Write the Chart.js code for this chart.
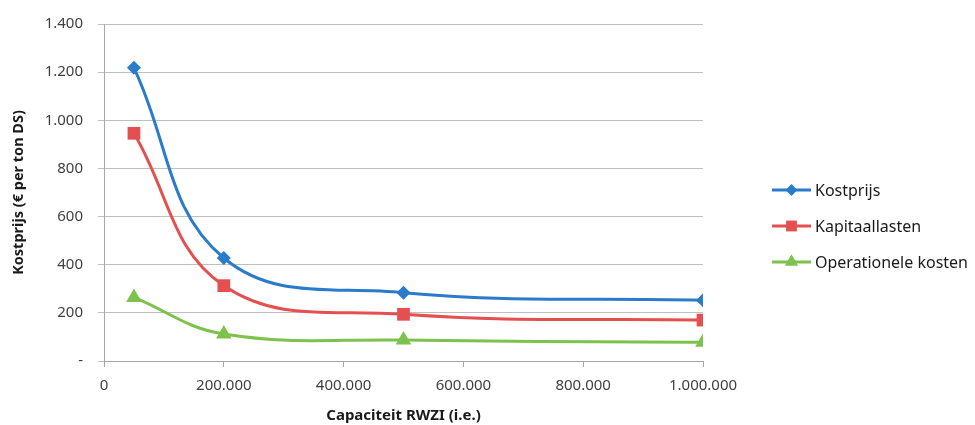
<!DOCTYPE html>
<html>
<head>
<meta charset="utf-8">
<script src="https://cdn.jsdelivr.net/npm/chart.js@4.4.1/dist/chart.umd.min.js"></script>
<style>
  html, body { margin: 0; padding: 0; background: #ffffff; }
  #wrap { width: 975px; height: 425px; position: relative; }
</style>
</head>
<body>
<div id="wrap"><canvas id="c" width="975" height="425"></canvas></div>
<script>
// ---- data ----
const capacities = [50000, 200000, 500000, 1000000];
const kostprijs = [1218, 428, 284, 252];
const kapitaallasten = [946, 313, 194, 170];
const operationeleKosten = [264, 112, 87, 78];
const seriesNames = ["Kostprijs", "Kapitaallasten", "Operationele kosten"];
const xTitle = "Capaciteit RWZI (i.e.)";
const yTitle = "Kostprijs (€ per ton DS)";

const colors = ["#2b7bcb", "#e4504f", "#7cc24c"];
const pointStyles = ["rectRot", "rect", "triangle"];
const pointRadii = [7, 9, 9];

function nl(v) {
  return String(Math.round(v)).replace(/\B(?=(\d{3})+(?!\d))/g, ".");
}

function toXY(vals) {
  return capacities.map((c, i) => ({ x: c, y: vals[i] }));
}

const allSeries = [kostprijs, kapitaallasten, operationeleKosten];
const datasets = allSeries.map((vals, i) => ({
  label: seriesNames[i],
  data: toXY(vals),
  borderColor: colors[i],
  backgroundColor: colors[i],
  borderWidth: 3,
  pointStyle: pointStyles[i],
  pointRadius: pointRadii[i],
  pointHoverRadius: pointRadii[i],
  pointBorderWidth: 0,
  tension: 0.4,
  fill: false
}));

const FONT = '"Noto Sans", "Liberation Sans", sans-serif';

const legendPlugin = {
  id: 'customLegend',
  afterDraw(chart) {
    const ctx = chart.ctx;
    const x0 = 772, x1 = 811, tx = 815;
    const rows = [190, 226, 262];
    chart.data.datasets.forEach((ds, i) => {
      const y = rows[i];
      ctx.save();
      ctx.strokeStyle = ds.borderColor;
      ctx.lineWidth = 3;
      ctx.beginPath();
      ctx.moveTo(x0, y);
      ctx.lineTo(x1, y);
      ctx.stroke();
      ctx.fillStyle = ds.backgroundColor;
      ctx.strokeStyle = ds.borderColor;
      Chart.helpers.drawPoint(ctx, {
        pointStyle: ds.pointStyle,
        rotation: 0,
        radius: ds.pointRadius * 0.85,
        borderWidth: 0
      }, (x0 + x1) / 2, y);
      ctx.fillStyle = '#1a1a1a';
      ctx.font = '16px ' + FONT;
      ctx.textBaseline = 'middle';
      ctx.textAlign = 'left';
      ctx.fillText(ds.label, tx, y + 1);
      ctx.restore();
    });
  }
};

new Chart(document.getElementById('c'), {
  type: 'line',
  data: { datasets },
  plugins: [legendPlugin],
  options: {
    responsive: false,
    animation: false,
    events: [],
    layout: { padding: { left: 6, right: 272, top: 17, bottom: 0 } },
    plugins: {
      legend: { display: false },
      tooltip: { enabled: false }
    },
    scales: {
      x: {
        type: 'linear',
        min: 0,
        max: 1000000,
        afterFit(scale) { scale.height = 64; },
        ticks: {
          stepSize: 200000,
          callback: (v) => nl(v),
          color: '#404040',
          font: { family: FONT, size: 15 },
          padding: 10,
          maxRotation: 0
        },
        grid: {
          drawOnChartArea: false,
          drawTicks: true,
          tickLength: 6,
          color: '#a6a6a6'
        },
        border: { display: true, color: '#a6a6a6', width: 1 },
        title: {
          display: true,
          text: xTitle,
          color: '#1a1a1a',
          font: { family: FONT, size: 15, weight: 'bold' },
          padding: { top: 0, bottom: 0 }
        }
      },
      y: {
        min: 0,
        max: 1400,
        afterFit(scale) { scale.width = 98; },
        ticks: {
          stepSize: 200,
          callback: (v) => (v === 0 ? '-' : nl(v)),
          color: '#404040',
          font: { family: FONT, size: 15 },
          padding: 15
        },
        grid: {
          color: '#bfbfbf',
          lineWidth: 1,
          tickLength: 6,
          drawTicks: true
        },
        border: { display: true, color: '#a6a6a6', width: 1 },
        title: {
          display: true,
          text: yTitle,
          color: '#1a1a1a',
          font: { family: FONT, size: 14.5, weight: 'bold' },
          padding: { top: 4, bottom: 0 }
        }
      }
    }
  }
});
</script>
</body>
</html>
